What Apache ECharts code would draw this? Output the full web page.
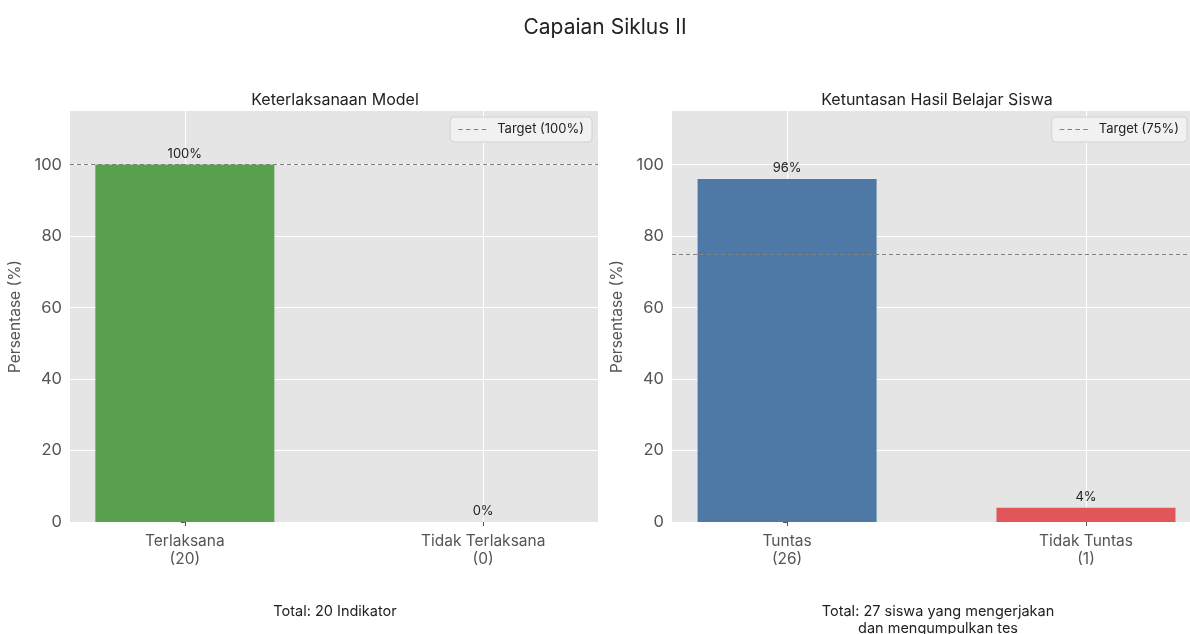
<!DOCTYPE html>
<html>
<head>
<meta charset="utf-8">
<script src="https://cdn.jsdelivr.net/npm/echarts@6/dist/echarts.min.js"></script>
<style>html,body{margin:0;padding:0;background:#fff}#c{width:1190px;height:634px}</style>
</head>
<body>
<div id="c"></div>
<script>
// ---- data ----
const leftCategories = ['Terlaksana\n(20)', 'Tidak Terlaksana\n(0)'];
const leftValues = [100, 0];
const rightCategories = ['Tuntas\n(26)', 'Tidak Tuntas\n(1)'];
const rightValues = [96, 4];
const targets = [100, 75];
const targetNames = ['Target (100%)', 'Target (75%)'];
const yTicks = [0, 20, 40, 60, 80, 100];
const titles = ['Keterlaksanaan Model', 'Ketuntasan Hasil Belajar Siswa'];
const footers = ['Total: 20 Indikator', 'Total: 27 siswa yang mengerjakan\ndan mengumpulkan tes'];
const leftColors = ['#59a14f', '#59a14f'];
const rightColors = ['#4e79a7', '#e15759'];

const FONT = 'Inter';
const chart = echarts.init(document.getElementById('c'));

function xAxis(idx, cats, xmax) {
  return {
    type: 'value', gridIndex: idx, min: -0.385, max: xmax,
    axisLine: {show: false},
    axisTick: {show: true, customValues: [0, 1], length: 4, lineStyle: {color: '#555'}},
    axisLabel: {customValues: [0, 1], formatter: v => cats[Math.round(v)], color: '#555',
      fontSize: 15.5, fontFamily: FONT, lineHeight: 18, margin: 10},
    splitLine: {show: true, lineStyle: {color: '#fff', width: 1}}
  };
}
function yAxis(idx) {
  return {
    type: 'value', gridIndex: idx, min: 0, max: 115,
    name: 'Persentase (%)', nameLocation: 'middle', nameGap: 47, nameRotate: 90,
    nameTextStyle: {color: '#555', fontSize: 15.5, fontFamily: FONT},
    axisLine: {show: false},
    axisTick: {show: true, customValues: yTicks, length: 4, lineStyle: {color: '#555'}},
    axisLabel: {customValues: yTicks, color: '#555', fontSize: 16.5, fontFamily: FONT, margin: 8},
    splitLine: {show: true, lineStyle: {color: '#fff', width: 1}}
  };
}
function barSeries(idx, vals, colors) {
  return {
    type: 'bar', xAxisIndex: idx, yAxisIndex: idx, barWidth: 179, z: 3,
    data: vals.map((v, i) => ({value: [i, v], itemStyle: {color: colors[i]}})),
    label: {show: true, position: 'top', distance: 4, formatter: p => p.value[1] + '%',
      color: '#222', fontSize: 13, fontFamily: FONT}
  };
}
function targetSeries(idx) {
  return {
    type: 'line', name: targetNames[idx], xAxisIndex: idx, yAxisIndex: idx, data: [],
    symbol: 'none', z: 4,
    lineStyle: {color: '#808080', type: [4, 3], width: 1.2},
    itemStyle: {color: '#808080'},
    markLine: {silent: true, symbol: 'none', label: {show: false},
      lineStyle: {color: '#808080', type: [4, 3], width: 1.2},
      data: [{yAxis: targets[idx]}]}
  };
}
function legend(idx, right) {
  return {
    data: [targetNames[idx]], right: right, top: 117, orient: 'vertical',
    backgroundColor: 'rgba(242,242,242,0.9)', borderColor: '#d2d2d2', borderWidth: 1,
    borderRadius: 4, padding: [6, 8, 6, 8], itemWidth: 28, itemHeight: 1.3, itemGap: 6,
    icon: 'path://M0,0h4v1h-4zM7,0h4v1h-4zM14,0h4v1h-4zM21,0h4v1h-4z', selectedMode: false,
    textStyle: {color: '#222', fontSize: 13, fontFamily: FONT, padding: [0, 0, 0, 6]}
  };
}

chart.setOption({
  backgroundColor: '#fff',
  animation: false,
  title: [
    {text: 'Capaian Siklus II', left: 600, top: 12, textAlign: 'center',
      textStyle: {fontSize: 21, fontWeight: 'normal', color: '#222', fontFamily: FONT}},
    {text: titles[0], left: 330, top: 87, textAlign: 'center',
      textStyle: {fontSize: 16, fontWeight: 'normal', color: '#222', fontFamily: FONT}},
    {text: titles[1], left: 932, top: 87, textAlign: 'center',
      textStyle: {fontSize: 16, fontWeight: 'normal', color: '#222', fontFamily: FONT}},
    {text: footers[0], left: 330, top: 598, textAlign: 'center',
      textStyle: {fontSize: 14.5, fontWeight: 'normal', color: '#222', fontFamily: FONT, lineHeight: 17}},
    {text: footers[1], left: 933, top: 598, textAlign: 'center',
      textStyle: {fontSize: 14.5, fontWeight: 'normal', color: '#222', fontFamily: FONT, lineHeight: 17}}
  ],
  grid: [
    {left: 70, width: 528, top: 111, height: 411, show: true, backgroundColor: '#e5e5e5', borderWidth: 0},
    {left: 672, right: 0, top: 111, height: 411, show: true, backgroundColor: '#e5e5e5', borderWidth: 0}
  ],
  legend: [legend(0, 1190 - 592), legend(1, 3)],
  xAxis: [xAxis(0, leftCategories, 1.385), xAxis(1, rightCategories, 1.348)],
  yAxis: [yAxis(0), yAxis(1)],
  series: [
    barSeries(0, leftValues, leftColors), targetSeries(0),
    barSeries(1, rightValues, rightColors), targetSeries(1)
  ]
});
</script>
</body>
</html>
